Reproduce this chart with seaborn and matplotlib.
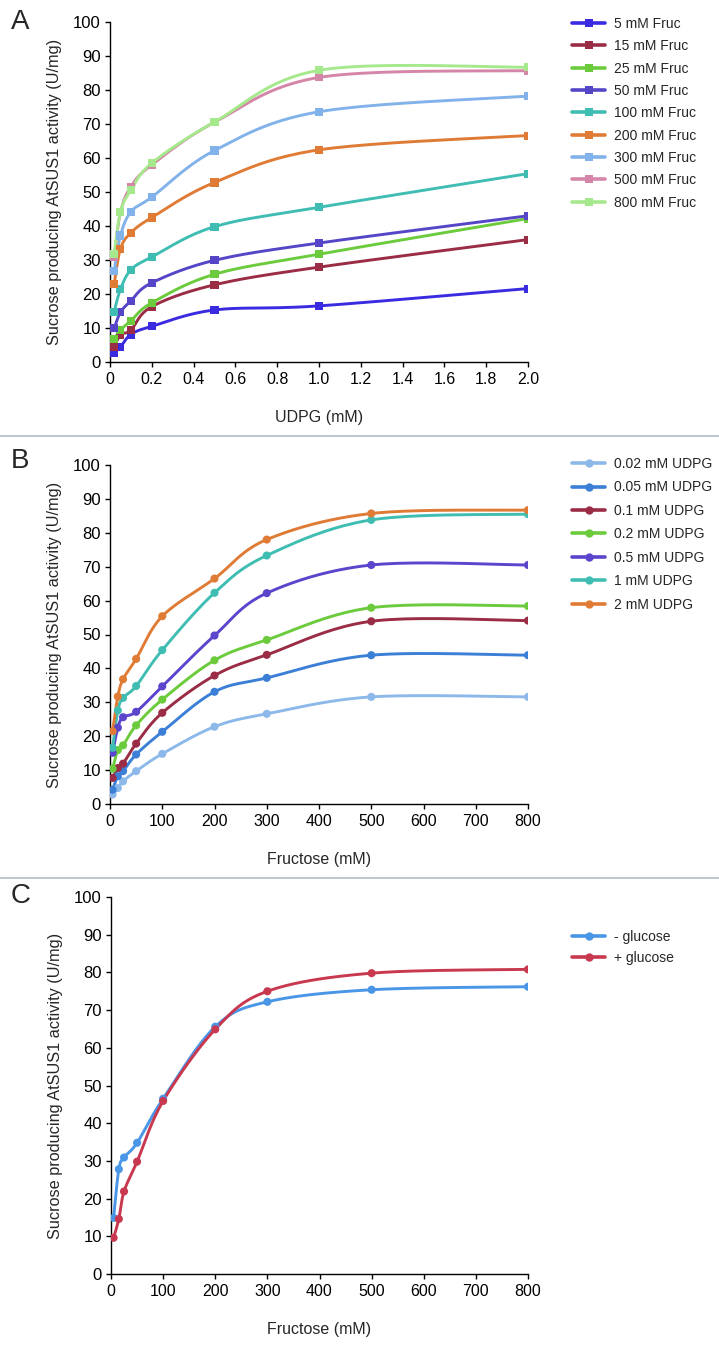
import numpy as np
import pandas as pd
import matplotlib
matplotlib.use("Agg")
import matplotlib.pyplot as plt
from matplotlib.lines import Line2D
import seaborn as sns

# ---------------- data ----------------
udpg_x = [0.02, 0.05, 0.1, 0.2, 0.5, 1.0, 2.0]
fruc_labels = ["5 mM Fruc", "15 mM Fruc", "25 mM Fruc", "50 mM Fruc", "100 mM Fruc",
               "200 mM Fruc", "300 mM Fruc", "500 mM Fruc", "800 mM Fruc"]
fruc_5 = [2.8, 4.4, 8.1, 10.5, 15.3, 16.5, 21.6]
fruc_15 = [4.4, 8.0, 9.4, 16.3, 22.7, 27.9, 36.0]
fruc_25 = [6.7, 9.4, 12.1, 17.4, 25.8, 31.7, 42.2]
fruc_50 = [9.9, 14.6, 18.0, 23.3, 29.9, 35.0, 43.0]
fruc_100 = [14.8, 21.4, 27.1, 30.9, 39.8, 45.5, 55.4]
fruc_200 = [22.9, 33.3, 38.0, 42.5, 52.8, 62.4, 66.6]
fruc_300 = [26.8, 37.2, 44.2, 48.5, 62.2, 73.6, 78.2]
fruc_500 = [31.0, 44.0, 51.6, 58.0, 70.5, 83.7, 85.7]
fruc_800 = [31.8, 44.2, 50.5, 58.5, 70.6, 85.8, 86.7]
colors_a = ["#3b2be0", "#9a2c45", "#6ccb3c", "#5546c8", "#40bdb2",
            "#e07b35", "#82b2ea", "#d585a8", "#a6e98c"]

fructose_x = [5, 15, 25, 50, 100, 200, 300, 500, 800]
udpg_labels = ["0.02 mM UDPG", "0.05 mM UDPG", "0.1 mM UDPG", "0.2 mM UDPG",
               "0.5 mM UDPG", "1 mM UDPG", "2 mM UDPG"]
udpg_002 = [2.8, 4.7, 6.7, 9.7, 14.8, 22.8, 26.6, 31.6, 31.6]
udpg_005 = [4.2, 8.2, 9.7, 14.6, 21.3, 33.1, 37.2, 43.9, 43.9]
udpg_01 = [7.7, 10.6, 11.9, 17.8, 26.9, 37.9, 44.0, 53.9, 54.1]
udpg_02 = [10.4, 15.9, 17.3, 23.2, 30.8, 42.4, 48.4, 57.9, 58.4]
udpg_05 = [15.1, 22.5, 25.6, 27.2, 34.7, 49.7, 62.2, 70.5, 70.5]
udpg_1 = [16.6, 27.6, 31.3, 34.8, 45.4, 62.3, 73.3, 83.8, 85.5]
udpg_2 = [21.5, 31.7, 36.8, 42.8, 55.4, 66.5, 78.0, 85.7, 86.7]
colors_b = ["#8db9ea", "#3c7fd6", "#9a2c45", "#6ccb3c", "#5a45cc", "#40bdb2", "#e07b35"]

gluc_labels = ["- glucose", "+ glucose"]
minus_glucose = [14.9, 27.8, 30.9, 34.8, 46.5, 65.6, 72.2, 75.4, 76.2]
plus_glucose = [9.6, 14.6, 21.9, 29.8, 45.9, 64.9, 75.0, 79.8, 80.8]
colors_c = ["#4a96e6", "#c8384f"]

# ---------------- style ----------------
sns.set_style("ticks")
plt.rcParams["font.family"] = ["Liberation Sans", "DejaVu Sans"]
plt.rcParams["xtick.major.size"] = 3.5
plt.rcParams["ytick.major.size"] = 3.5

W, H = 719, 1349
fig = plt.figure(figsize=(W / 100, H / 100), dpi=100)
NARROW = ["Liberation Sans Narrow", "Liberation Sans", "DejaVu Sans"]


def smooth(x, y, xr, yr, wpx, hpx, n=24):
    X = np.asarray(x, float) / xr * wpx
    Y = np.asarray(y, float) / yr * hpx
    P = np.column_stack([X, Y])
    out = [P[0]]
    t = np.linspace(0, 1, n)[1:]
    for i in range(len(P) - 1):
        p0 = P[i - 1] if i > 0 else P[i]
        p1, p2 = P[i], P[i + 1]
        p3 = P[i + 2] if i + 2 < len(P) else P[i + 1]
        c1 = p1 + (p2 - p0) / 6.0
        c2 = p2 - (p3 - p1) / 6.0
        for tt in t:
            b = ((1 - tt) ** 3) * p1 + 3 * ((1 - tt) ** 2) * tt * c1 + 3 * (1 - tt) * tt ** 2 * c2 + tt ** 3 * p2
            out.append(b)
    out = np.array(out)
    return out[:, 0] / wpx * xr, out[:, 1] / hpx * yr


def panel(rect_px, xs, series, labels, colors, marker, xmax, xticks, xticklabels,
          xlabel, leg_top_px, leg_spacing):
    left, top, right, bottom = rect_px
    ax = fig.add_axes([left / W, 1 - bottom / H, (right - left) / W, (bottom - top) / H])
    wpx, hpx = right - left, bottom - top
    rows = []
    for lab, ys in zip(labels, series):
        for xv, yv in zip(xs, ys):
            rows.append({"x": xv, "y": yv, "series": lab})
    df = pd.DataFrame(rows)
    for lab, ys, c in zip(labels, series, colors):
        sx, sy = smooth(xs, ys, xmax, 100, wpx, hpx)
        ax.plot(sx, sy, color=c, lw=2.1, solid_capstyle="round", zorder=2)
        sub = df[df["series"] == lab]
        sns.scatterplot(data=sub, x="x", y="y", color=c, marker=marker,
                        s=34, edgecolor="none", ax=ax, zorder=3, legend=False)
    ax.set_xlim(0, xmax)
    ax.set_ylim(0, 100)
    ax.set_xticks(xticks)
    ax.set_xticklabels(xticklabels, fontsize=11.5, family=NARROW)
    ax.set_yticks(np.arange(0, 101, 10))
    ax.set_yticklabels([str(v) for v in range(0, 101, 10)], fontsize=12)
    ax.set_xlabel(xlabel, fontsize=11.5, labelpad=16)
    ax.set_ylabel("Sucrose producing AtSUS1 activity (U/mg)", fontsize=11.7, labelpad=8)
    sns.despine(ax=ax)
    for s in ["left", "bottom"]:
        ax.spines[s].set_color("black")
        ax.spines[s].set_linewidth(1.0)
    ax.tick_params(axis="x", colors="black", width=1.0, pad=4)
    ax.tick_params(axis="y", colors="black", width=1.0, pad=3)
    handles = [Line2D([0], [0], color=c, lw=2.6, marker=marker, markersize=6,
                      markeredgewidth=0) for c in colors]
    ax.legend(handles, labels, loc="upper left", frameon=False, fontsize=10,
              bbox_to_anchor=((572 - left) / wpx, 1 - (leg_top_px - 5 - top) / hpx),
              handlelength=2.4, handletextpad=0.6, labelspacing=leg_spacing,
              borderaxespad=0, borderpad=0)
    return ax


xa_ticks = np.round(np.arange(0, 2.01, 0.2), 1)
panel((110, 22, 528, 362), udpg_x,
      [fruc_5, fruc_15, fruc_25, fruc_50, fruc_100, fruc_200, fruc_300, fruc_500, fruc_800],
      fruc_labels, colors_a, "s", 2.0, xa_ticks, [f"{v:.1f}" if v > 0 else "0" for v in xa_ticks],
      "UDPG (mM)", 22, 0.6)

xb_ticks = np.arange(0, 801, 100)
panel((110, 465, 528, 804), fructose_x,
      [udpg_002, udpg_005, udpg_01, udpg_02, udpg_05, udpg_1, udpg_2],
      udpg_labels, colors_b, "o", 800, xb_ticks, [str(v) for v in xb_ticks],
      "Fructose (mM)", 462, 0.68)

panel((111, 897, 528, 1274), fructose_x, [minus_glucose, plus_glucose],
      gluc_labels, colors_c, "o", 800, xb_ticks, [str(v) for v in xb_ticks],
      "Fructose (mM)", 935, 0.47)

# separators and panel letters
for yp in [436, 878]:
    fig.add_artist(Line2D([0, 1], [1 - yp / H, 1 - yp / H], color="#b3bdc2", lw=1.2))
for lab, yp in [("A", 22), ("B", 461), ("C", 896)]:
    fig.text(11 / W, 1 - yp / H, lab, fontsize=20, va="center", ha="left")

fig.savefig("out.png", dpi=100)
